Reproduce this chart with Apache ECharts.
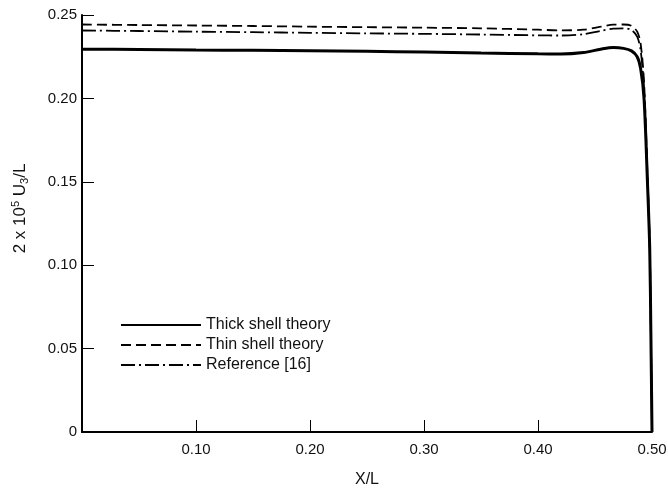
<!DOCTYPE html>
<html>
<head>
<meta charset="utf-8">
<script src="https://cdn.jsdelivr.net/npm/echarts@6/dist/echarts.min.js"></script>
<style>
  html, body { margin: 0; padding: 0; background: #fff; }
  #chart { width: 668px; height: 489px; }
</style>
</head>
<body>
<div id="chart"></div>
<script>
// data
const xs = [0, 0.05, 0.10, 0.15, 0.20, 0.25, 0.30, 0.35, 0.40, 0.42, 0.44, 0.455, 0.466, 0.475, 0.482, 0.487, 0.490, 0.493, 0.496, 0.498, 0.499, 0.500]
const thickShell = [0.2295, 0.2293, 0.2290, 0.2288, 0.2285, 0.2282, 0.2278, 0.2272, 0.2267, 0.2266, 0.2275, 0.2295, 0.2305, 0.2300, 0.2285, 0.2250, 0.2180, 0.2000, 0.1500, 0.1100, 0.0600, 0.0]
const thinShell = [0.2443, 0.2440, 0.2437, 0.2434, 0.2430, 0.2427, 0.2424, 0.2420, 0.2412, 0.2408, 0.2412, 0.2430, 0.2442, 0.2443, 0.2435, 0.2400, 0.2330, 0.2100, 0.1550, 0.1120, 0.0620, 0.0]
const reference16 = [0.2407, 0.2404, 0.2400, 0.2397, 0.2393, 0.2390, 0.2387, 0.2383, 0.2378, 0.2377, 0.2385, 0.2405, 0.2418, 0.2420, 0.2410, 0.2370, 0.2290, 0.2060, 0.1530, 0.1110, 0.0610, 0.0]
const seriesNames = ['Thick shell theory', 'Thin shell theory', 'Reference [16]']

const pairs = (ys) => xs.map((x, i) => [x, ys[i]])

const chart = echarts.init(document.getElementById('chart'))
const font = 'Liberation Sans'
const option = {
  animation: false,
  backgroundColor: '#fff',
  textStyle: { fontFamily: font },
  grid: {
    left: 82,
    right: 16,
    top: 15,
    bottom: 57,
    outerBoundsMode: 'none'
  },
  legend: {
    orient: 'vertical',
    left: 115,
    top: 312,
    itemWidth: 80,
    itemHeight: 12,
    itemGap: 4,
    itemStyle: { opacity: 0 },
    textStyle: { fontSize: 16, color: '#111', fontFamily: font },
    data: seriesNames
  },
  xAxis: {
    type: 'value',
    min: 0,
    max: 0.5,
    interval: 0.1,
    name: 'X/L',
    nameLocation: 'middle',
    nameGap: 40,
    nameTextStyle: { fontSize: 16, color: '#111' },
    splitLine: { show: false },
    axisLine: { lineStyle: { color: '#000', width: 2 } },
    axisTick: { inside: true, length: 12, lineStyle: { color: '#000', width: 1 } },
    axisLabel: {
      fontSize: 15,
      color: '#111',
      margin: 10,
      formatter: (v) => (v === 0 ? '' : v.toFixed(2))
    }
  },
  yAxis: {
    type: 'value',
    min: 0,
    max: 0.25,
    interval: 0.05,
    name: '2 x 10{sup|5} U{sub|3}/L',
    nameLocation: 'middle',
    nameRotate: 90,
    nameGap: 52,
    nameTextStyle: {
      fontSize: 17,
      color: '#111',
      padding: [0, 0, 0, 30],
      rich: {
        sup: { fontSize: 11, verticalAlign: 'bottom', padding: [0, 0, 9, 0], color: '#111' },
        sub: { fontSize: 11, verticalAlign: 'top', padding: [9, 0, 0, 0], color: '#111' }
      }
    },
    splitLine: { show: false },
    axisLine: { show: true, lineStyle: { color: '#000', width: 2 } },
    axisTick: { show: true, inside: true, length: 12, lineStyle: { color: '#000', width: 1 } },
    axisLabel: {
      fontSize: 15,
      color: '#111',
      margin: 5,
      formatter: (v) => (v === 0 ? '0' : v.toFixed(2))
    }
  },
  series: [
    {
      name: seriesNames[0],
      type: 'line',
      data: pairs(thickShell),
      symbol: 'none',
      smooth: 0.3,
      lineStyle: { color: '#000', width: 3, type: 'solid' },
      itemStyle: { color: '#000' }
    },
    {
      name: seriesNames[1],
      type: 'line',
      data: pairs(thinShell),
      symbol: 'none',
      smooth: 0.3,
      lineStyle: { color: '#000', width: 1.8, type: [10, 5] },
      itemStyle: { color: '#000' }
    },
    {
      name: seriesNames[2],
      type: 'line',
      data: pairs(reference16),
      symbol: 'none',
      smooth: 0.3,
      lineStyle: { color: '#000', width: 1.8, type: [14, 4, 2, 4] },
      itemStyle: { color: '#000' }
    }
  ]
}
chart.setOption(option)
</script>
</body>
</html>
